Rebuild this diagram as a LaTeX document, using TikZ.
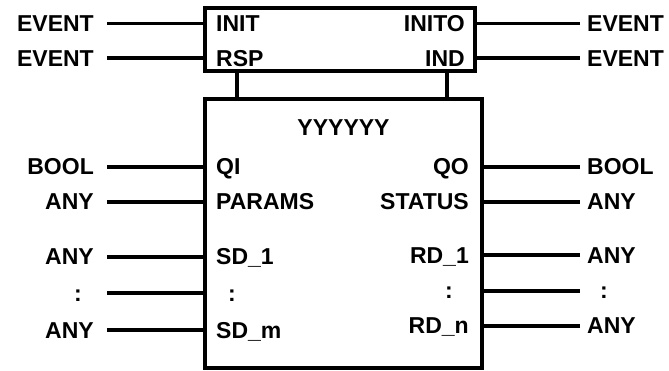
\documentclass[tikz,border=0pt]{standalone}
\usepackage{fontspec}
\setmainfont{Liberation Sans}
\usetikzlibrary{positioning, calc}

\begin{document}
\begin{tikzpicture}[
  x=1pt, y=-1pt,
  every node/.style={font=\fontsize{23}{27}\selectfont\bfseries, inner sep=0pt, text height=16.5pt, text depth=0pt},
  blk/.style   = {draw, line width=4pt, inner sep=0pt},
  wire/.style  = {line width=4pt},
  ewire/.style = {line width=3.4pt},
]
  \useasboundingbox (0,0) rectangle (669,370);
  % Event head on top, algorithm body below.
  \node[blk, minimum width=270pt, minimum height=63pt]    (ev) at (340,39.5)    {};
  \node[blk, minimum width=277pt, minimum height=268.5pt] (fb) at (343.5,233.25) {};
  \node[below=22pt of fb.north] (ttl) {YYYYYY};
  \draw[wire] ([xshift=34pt]ev.south west) -- ([xshift=34pt]ev.south west |- fb.north);
  \draw[wire] ([xshift=-30pt]ev.south east) -- ([xshift=-30pt]ev.south east |- fb.north);

  % Event inputs and outputs.
  \foreach \y/\pin/\pout/\n in {23.5/INIT/INITO/e1, 58/RSP/IND/e2} {
    \node[anchor=east] (\n-ti) at (94,\y)  {EVENT};
    \node[anchor=west] (\n-i)  at (216,\y) {\pin};
    \node[anchor=east] (\n-o)  at (465,\y) {\pout};
    \node[anchor=west] (\n-to) at (587,\y) {EVENT};
    \draw[ewire] ([xshift=13pt]\n-ti.east) -- (\n-ti.east -| ev.west);
    \draw[ewire] ([xshift=-7pt]\n-to.west) -- (\n-to.west -| ev.east);
  }

  % Data inputs.
  \foreach \y/\ty/\pt/\n in {166.7/BOOL/QI/qi, 201.7/ANY/PARAMS/prm, 256.7/ANY/SD\_1/sd1, 330/ANY/SD\_m/sdm} {
    \node[anchor=east] (\n-t) at (94,\y)  {\ty};
    \node[anchor=west] (\n)   at (216,\y) {\pt};
    \draw[wire] ([xshift=13pt]\n-t.east) -- (\n-t.east -| fb.west);
  }
  \node (dl-t) at (78,293.3)  {:};
  \node (dl)   at (232,293.3) {:};
  \coordinate (dl-a) at (107,293.3);
  \draw[wire] (dl-a) -- (dl-a -| fb.west);

  % Data outputs.
  \foreach \y/\ty/\pt/\n in {166.7/BOOL/QO/qo, 201.7/ANY/STATUS/sts, 255/ANY/RD\_1/rd1, 325.7/ANY/RD\_n/rdn} {
    \node[anchor=west] (\n-t) at (587,\y) {\ty};
    \node[anchor=east] (\n)   at (469,\y) {\pt};
    \draw[wire] ([xshift=-7pt]\n-t.west) -- (\n-t.west -| fb.east);
  }
  \node (dr)   at (449,290.7) {:};
  \node (dr-t) at (604,290.7) {:};
  \coordinate (dr-a) at (580,290.7);
  \draw[wire] (dr-a) -- (dr-a -| fb.east);
\end{tikzpicture}
\end{document}
